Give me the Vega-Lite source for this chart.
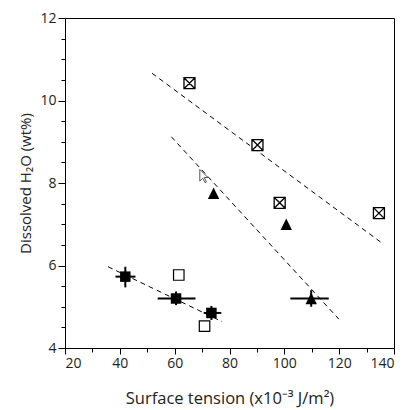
{
  "$schema": "https://vega.github.io/schema/vega-lite/v6.json",
  "autosize": "none",
  "width": 329,
  "height": 330,
  "padding": {"left": 65, "top": 18, "right": 10, "bottom": 62},
  "background": "white",
  "config": {
    "view": {"stroke": "black", "strokeWidth": 1},
    "axis": {
      "domainColor": "black", "tickColor": "black", "labelColor": "#222",
      "titleColor": "#222", "labelFont": "Open Sans", "titleFont": "Open Sans",
      "labelFontSize": 14, "titleFontSize": 15, "titleFontWeight": "normal",
      "grid": false
    }
  },
  "resolve": {"axis": {"x": "independent", "y": "independent"}},
  "datasets": {
    "crossed": [
      {"x": 65.4, "y": 10.42}, {"x": 90.2, "y": 8.92}, {"x": 98.3, "y": 7.52}, {"x": 134.5, "y": 7.27}
    ],
    "triangles": [
      {"x": 74.2, "y": 7.75}, {"x": 100.7, "y": 7.0}, {"x": 109.8, "y": 5.2}
    ],
    "filled": [
      {"x": 42.0, "y": 5.73}, {"x": 60.5, "y": 5.2}, {"x": 73.4, "y": 4.85}
    ],
    "open": [
      {"x": 61.5, "y": 5.77}, {"x": 70.9, "y": 4.53}
    ],
    "errors": [
      {"x": 109.8, "y": 5.2, "xlo": 102.2, "xhi": 116.2, "ylo": 5.0, "yhi": 5.4},
      {"x": 42.0, "y": 5.73, "xlo": 38.4, "xhi": 45.7, "ylo": 5.47, "yhi": 5.97},
      {"x": 60.5, "y": 5.2, "xlo": 53.8, "xhi": 67.6, "ylo": 5.04, "yhi": 5.37},
      {"x": 73.4, "y": 4.85, "xlo": 70.6, "xhi": 77.0, "ylo": 4.68, "yhi": 5.02}
    ],
    "lines": [
      {"line": "A", "x": 51.75, "y": 10.66}, {"line": "A", "x": 135.7, "y": 6.54},
      {"line": "B", "x": 58.8, "y": 9.12}, {"line": "B", "x": 119.9, "y": 4.70},
      {"line": "C", "x": 35.7, "y": 5.97}, {"line": "C", "x": 77.3, "y": 4.64}
    ],
    "cursor": [{"x": 70.7, "y": 8.16}]
  },
  "layer": [
    {
      "data": {"name": "lines"},
      "mark": {"type": "line", "color": "black", "strokeWidth": 1, "strokeDash": [5, 4]},
      "encoding": {
        "x": {"field": "x", "type": "quantitative", "scale": {"domain": [20, 140], "nice": false, "zero": false},
          "axis": {"orient": "bottom", "values": [20, 40, 60, 80, 100, 120, 140], "tickSize": 6, "labelPadding": 2,
            "title": "Surface tension (x10⁻³ J/m²)", "titleFontSize": 16.5, "titlePadding": 20}},
        "y": {"field": "y", "type": "quantitative", "scale": {"domain": [4, 12], "nice": false, "zero": false},
          "axis": {"orient": "left", "values": [4, 6, 8, 10, 12], "tickSize": 7, "labelPadding": 2,
            "title": "Dissolved H₂O (wt%)", "titlePadding": 6}},
        "detail": {"field": "line"}
      }
    },
    {
      "data": {"name": "lines"},
      "mark": {"type": "point", "opacity": 0},
      "encoding": {
        "x": {"field": "x", "type": "quantitative",
          "axis": {"orient": "bottom", "values": [30, 50, 70, 90, 110, 130], "tickSize": 4, "labels": false, "domain": false, "title": null}},
        "y": {"field": "y", "type": "quantitative",
          "axis": {"orient": "left", "values": [4.5, 5, 5.5, 6.5, 7, 7.5, 8.5, 9, 9.5, 10.5, 11, 11.5], "tickSize": 4, "labels": false, "domain": false, "title": null}}
      }
    },
    {
      "data": {"name": "errors"},
      "mark": {"type": "rule", "color": "black", "strokeWidth": 2},
      "encoding": {
        "x": {"field": "xlo", "type": "quantitative", "axis": null},
        "x2": {"field": "xhi"},
        "y": {"field": "y", "type": "quantitative", "axis": null}
      }
    },
    {
      "data": {"name": "errors"},
      "mark": {"type": "rule", "color": "black", "strokeWidth": 2},
      "encoding": {
        "x": {"field": "x", "type": "quantitative", "axis": null},
        "y": {"field": "ylo", "type": "quantitative", "axis": null},
        "y2": {"field": "yhi"}
      }
    },
    {
      "data": {"name": "crossed"},
      "mark": {"type": "point", "shape": "M-1,-1H1V1H-1ZM-1,-1L1,1M1,-1L-1,1", "filled": false, "fill": "white", "fillOpacity": 1, "stroke": "black", "strokeWidth": 1.3, "size": 121, "opacity": 1},
      "encoding": {
        "x": {"field": "x", "type": "quantitative", "axis": null},
        "y": {"field": "y", "type": "quantitative", "axis": null}
      }
    },
    {
      "data": {"name": "open"},
      "mark": {"type": "point", "shape": "square", "filled": false, "fill": "white", "fillOpacity": 1, "stroke": "black", "strokeWidth": 1.2, "size": 110, "opacity": 1},
      "encoding": {
        "x": {"field": "x", "type": "quantitative", "axis": null},
        "y": {"field": "y", "type": "quantitative", "axis": null}
      }
    },
    {
      "data": {"name": "filled"},
      "mark": {"type": "point", "shape": "square", "filled": true, "color": "black", "size": 110, "opacity": 1},
      "encoding": {
        "x": {"field": "x", "type": "quantitative", "axis": null},
        "y": {"field": "y", "type": "quantitative", "axis": null}
      }
    },
    {
      "data": {"name": "triangles"},
      "mark": {"type": "point", "shape": "M0,-1L1,1L-1,1Z", "filled": true, "color": "black", "size": 130, "opacity": 1},
      "encoding": {
        "x": {"field": "x", "type": "quantitative", "axis": null},
        "y": {"field": "y", "type": "quantitative", "axis": null}
      }
    },
    {
      "data": {"name": "cursor"},
      "mark": {"type": "point", "shape": "M-0.6,-1L-0.6,0.68L-0.18,0.26L0.14,0.89L0.35,0.79L0.03,0.16L0.56,0.16Z", "filled": false, "fill": "white", "fillOpacity": 1, "stroke": "#555", "strokeWidth": 1, "size": 196, "opacity": 1},
      "encoding": {
        "x": {"field": "x", "type": "quantitative", "axis": null},
        "y": {"field": "y", "type": "quantitative", "axis": null}
      }
    }
  ]
}
